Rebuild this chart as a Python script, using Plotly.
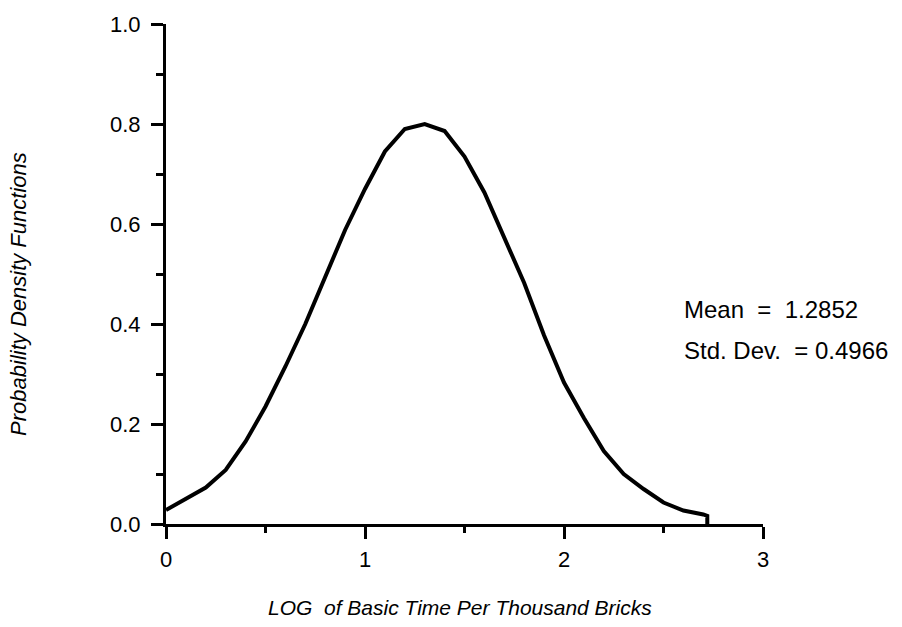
import plotly.graph_objects as go

# Data
x_log = [0.0, 0.2, 0.3, 0.4, 0.5, 0.6, 0.7, 0.8, 0.9, 1.0, 1.1, 1.2, 1.3, 1.4, 1.5,
         1.6, 1.7, 1.8, 1.9, 2.0, 2.1, 2.2, 2.3, 2.4, 2.5, 2.6, 2.7, 2.72, 2.72]
pdf = [0.028, 0.073, 0.108, 0.165, 0.235, 0.315, 0.400, 0.492, 0.588, 0.670, 0.745,
       0.790, 0.800, 0.786, 0.735, 0.663, 0.572, 0.482, 0.377, 0.283, 0.212, 0.146,
       0.100, 0.070, 0.043, 0.027, 0.019, 0.016, 0.0]

x_ticks = [0, 1, 2, 3]
y_ticks = [0.0, 0.2, 0.4, 0.6, 0.8, 1.0]
mean_label = "Mean\u00a0\u00a0=\u00a0\u00a01.2852"
sd_label = "Std.\u00a0Dev.\u00a0\u00a0=\u00a00.4966"
x_title = "LOG\u00a0\u00a0of Basic Time Per Thousand Bricks"
y_title = "Probability Density Functions"

FONT = "Liberation Sans, Arial, Helvetica, sans-serif"

fig = go.Figure()
fig.add_trace(go.Scatter(x=x_log, y=pdf, mode="lines",
                         line=dict(color="black", width=4),
                         cliponaxis=False, showlegend=False, hoverinfo="skip"))

fig.update_layout(
    width=902, height=627,
    margin=dict(l=166, r=139, t=15, b=103),
    paper_bgcolor="white", plot_bgcolor="white",
    font=dict(family=FONT, color="black", size=22),
    xaxis=dict(range=[0, 3], tickvals=x_ticks, ticktext=[str(v) for v in x_ticks],
               showgrid=False, zeroline=False, showline=True, linecolor="black",
               linewidth=3, ticks="outside", ticklen=12, tickwidth=3, tickcolor="black",
               tickfont=dict(size=22, family=FONT), ticklabelstandoff=2,
               minor=dict(dtick=0.5, tick0=0, ticks="outside", ticklen=6, tickwidth=3,
                          tickcolor="black", showgrid=False)),
    yaxis=dict(range=[0, 1], tickvals=y_ticks, ticktext=[f"{v:.1f}" for v in y_ticks],
               showgrid=False, zeroline=False, showline=True, linecolor="black",
               linewidth=3, ticks="outside", ticklen=12, tickwidth=3, tickcolor="black",
               tickfont=dict(size=22, family=FONT), ticklabelstandoff=6,
               minor=dict(dtick=0.1, tick0=0, ticks="outside", ticklen=7, tickwidth=3,
                          tickcolor="black", showgrid=False)),
)

fig.add_annotation(x=0.864, y=0.430, xref="paper", yref="paper", text=mean_label,
                   showarrow=False, xanchor="left", yanchor="middle",
                   font=dict(size=24, family=FONT))
fig.add_annotation(x=0.864, y=0.348, xref="paper", yref="paper", text=sd_label,
                   showarrow=False, xanchor="left", yanchor="middle",
                   font=dict(size=24, family=FONT))
fig.add_annotation(x=0.4925, y=-0.167, xref="paper", yref="paper",
                   text=f"<i>{x_title}</i>", showarrow=False,
                   xanchor="center", yanchor="middle", font=dict(size=21, family=FONT))
fig.add_annotation(x=-0.248, y=0.46, xref="paper", yref="paper",
                   text=f"<i>{y_title}</i>", showarrow=False, textangle=-90,
                   xanchor="center", yanchor="middle", font=dict(size=22, family=FONT))

fig.write_html("out.html")
